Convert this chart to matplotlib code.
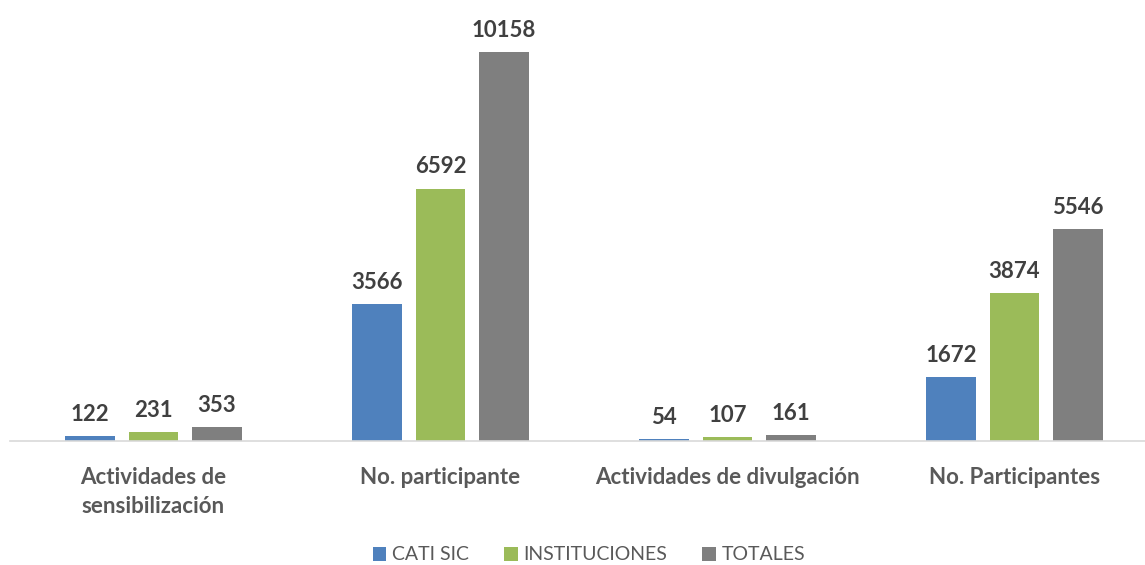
import numpy as np
import matplotlib
matplotlib.use("Agg")
import matplotlib.pyplot as plt

categories = ["Actividades de\nsensibilización", "No. participante",
              "Actividades de divulgación", "No. Participantes"]
cati_sic = [122, 3566, 54, 1672]
instituciones = [231, 6592, 107, 3874]
totales = [353, 10158, 161, 5546]

series = [("CATI SIC", cati_sic, "#4F81BD"),
          ("INSTITUCIONES", instituciones, "#9BBB59"),
          ("TOTALES", totales, "#7F7F7F")]

plt.rcParams['font.family'] = ['Lato', 'DejaVu Sans']

W, H = 1145, 565
fig = plt.figure(figsize=(W / 100, H / 100), dpi=100)
ax = fig.add_axes([10 / W, (H - 441) / H, 1135 / W, 421 / H])

x = np.arange(len(categories))
width = 0.174
step = 0.221

for i, (name, vals, color) in enumerate(series):
    pos = x + (i - 1) * step
    bars = ax.bar(pos, vals, width, color=color, label=name)
    for b, v in zip(bars, vals):
        ax.annotate(str(v), (b.get_x() + b.get_width() / 2, v),
                    xytext=(0, 8), textcoords="offset points",
                    ha="center", va="bottom", fontsize=16,
                    fontweight="bold", color="#404040")

ax.set_xlim(-0.5, -0.5 + 1135 / 287)
ax.set_ylim(0, 10158 * 421 / 389)
ax.set_yticks([])
ax.set_xticks(x)
ax.set_xticklabels(categories, fontsize=16, fontweight="bold", color="#595959",
                   linespacing=1.45)
ax.tick_params(axis="x", length=0, pad=19)
for s in ["top", "right", "left"]:
    ax.spines[s].set_visible(False)
ax.spines["bottom"].set_color("#D9D9D9")
ax.spines["bottom"].set_linewidth(1.2)

fig.legend(loc="center", bbox_to_anchor=(589 / W, 1 - 555 / H), ncol=3,
           frameon=False, fontsize=14, handlelength=0.7, handleheight=0.7,
           handletextpad=0.3, columnspacing=1.8, labelcolor="#595959")

fig.savefig("out.png", dpi=100)
